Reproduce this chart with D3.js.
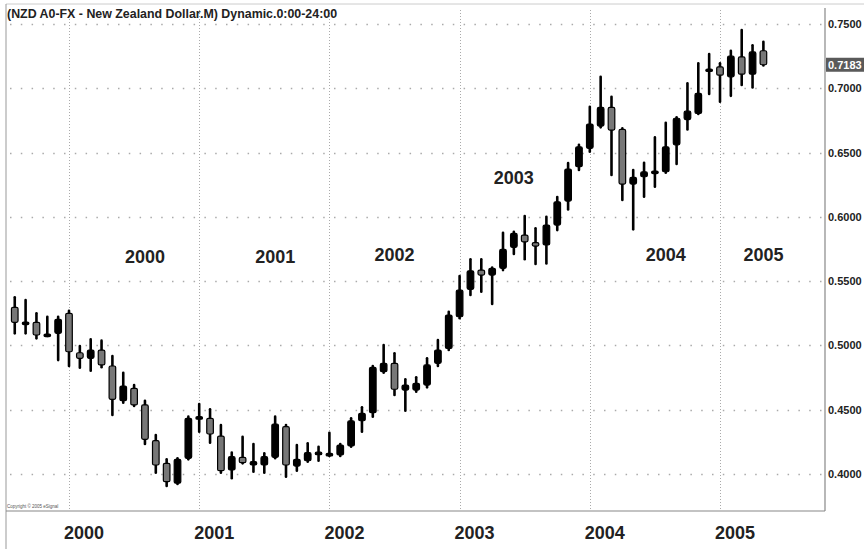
<!DOCTYPE html>
<html><head><meta charset="utf-8">
<script src="https://cdn.jsdelivr.net/npm/d3@7"></script>
<style>body{margin:0;background:#fff}svg{display:block}</style>
</head><body><svg id="c" width="864" height="549"></svg>
<script>
// Monthly candles Aug 1999 – May 2005
const months = ["1999-08","1999-09","1999-10","1999-11","1999-12",
"2000-01","2000-02","2000-03","2000-04","2000-05","2000-06","2000-07","2000-08","2000-09","2000-10","2000-11","2000-12",
"2001-01","2001-02","2001-03","2001-04","2001-05","2001-06","2001-07","2001-08","2001-09","2001-10","2001-11","2001-12",
"2002-01","2002-02","2002-03","2002-04","2002-05","2002-06","2002-07","2002-08","2002-09","2002-10","2002-11","2002-12",
"2003-01","2003-02","2003-03","2003-04","2003-05","2003-06","2003-07","2003-08","2003-09","2003-10","2003-11","2003-12",
"2004-01","2004-02","2004-03","2004-04","2004-05","2004-06","2004-07","2004-08","2004-09","2004-10","2004-11","2004-12",
"2005-01","2005-02","2005-03","2005-04","2005-05"];
const open = [0.5296,0.5175,0.5180,0.5083,0.5094,
0.5250,0.4943,0.4900,0.4964,0.4840,0.4570,0.4666,0.4537,0.4259,0.4083,0.3928,0.4122,
0.4440,0.4433,0.4295,0.4031,0.4130,0.4070,0.4070,0.4130,0.4368,0.4062,0.4103,0.4161,
0.4150,0.4148,0.4218,0.4414,0.4477,0.4796,0.4861,0.4653,0.4653,0.4692,0.4861,0.4977,
0.5223,0.5436,0.5586,0.5547,0.5600,0.5763,0.5858,0.5799,0.5781,0.5936,0.6123,0.6390,
0.6533,0.6706,0.6851,0.6680,0.6255,0.6312,0.6351,0.6351,0.6560,0.6757,0.6804,0.7140,
0.7167,0.7089,0.7244,0.7110,0.7292];
const high = [0.5374,0.5353,0.5250,0.5223,0.5223,
0.5270,0.4995,0.5047,0.5037,0.4918,0.4788,0.4692,0.4570,0.4303,0.4114,0.4122,0.4446,
0.4544,0.4503,0.4381,0.4166,0.4290,0.4233,0.4161,0.4446,0.4381,0.4225,0.4239,0.4212,
0.4321,0.4233,0.4433,0.4519,0.4840,0.5003,0.4939,0.4736,0.4752,0.4900,0.5042,0.5262,
0.5540,0.5670,0.5670,0.5605,0.5876,0.5884,0.6006,0.5911,0.6001,0.6154,0.6418,0.6560,
0.6856,0.7089,0.6934,0.6688,0.6364,0.6421,0.6618,0.6732,0.6775,0.7038,0.7194,0.7266,
0.7194,0.7292,0.7453,0.7335,0.7362];
const low = [0.5094,0.5094,0.5055,0.5073,0.4886,
0.4840,0.4827,0.4803,0.4830,0.4459,0.4554,0.4529,0.4233,0.4010,0.3907,0.3922,0.4114,
0.4329,0.4243,0.4010,0.3967,0.4083,0.4018,0.4010,0.4122,0.3979,0.4026,0.4096,0.4103,
0.4140,0.4140,0.4212,0.4329,0.4446,0.4788,0.4614,0.4492,0.4640,0.4674,0.4840,0.4964,
0.5211,0.5392,0.5418,0.5322,0.5586,0.5711,0.5670,0.5633,0.5638,0.5897,0.6058,0.6364,
0.6506,0.6696,0.6325,0.6131,0.5903,0.6156,0.6234,0.6343,0.6411,0.6680,0.6800,0.6955,
0.6895,0.6941,0.7026,0.7006,0.7178];
const close = [0.5180,0.5182,0.5081,0.5088,0.5203,
0.4951,0.4900,0.4964,0.4848,0.4581,0.4684,0.4537,0.4270,0.4070,0.3940,0.4114,0.4433,
0.4446,0.4311,0.4026,0.4135,0.4088,0.4096,0.4135,0.4389,0.4070,0.4114,0.4166,0.4170,
0.4160,0.4225,0.4414,0.4472,0.4830,0.4861,0.4659,0.4692,0.4705,0.4848,0.4964,0.5236,
0.5431,0.5581,0.5547,0.5600,0.5747,0.5871,0.5806,0.5773,0.5936,0.6117,0.6372,0.6545,
0.6722,0.6851,0.6675,0.6255,0.6307,0.6351,0.6356,0.6545,0.6767,0.6822,0.6960,0.7150,
0.7102,0.7250,0.7110,0.7283,0.7183];
const priceTicks = [0.40,0.45,0.50,0.55,0.60,0.65,0.70,0.75];
const years = [2000,2001,2002,2003,2004,2005];
const annotations = [
  {label:"2000", m:"2000-08", v:0.5690},
  {label:"2001", m:"2001-08", v:0.5690},
  {label:"2002", m:"2002-07", v:0.5705},
  {label:"2003", m:"2003-06", v:0.6305},
  {label:"2004", m:"2004-08", v:0.5705},
  {label:"2005", m:"2005-05", v:0.5705}
];
const title = "(NZD A0-FX - New Zealand Dollar.M) Dynamic.0:00-24:00";
const lastPrice = "0.7183";

const svg = d3.select("#c");
const FONT = "'Liberation Sans', Arial, sans-serif";
const L = 6, R = 825, T = 4, B = 511;

const x = d3.scaleLinear().domain([0, months.length - 1]).range([14.75, 14.75 + 10.85*(months.length - 1)]);
const y = d3.scaleLinear().domain([0.40, 0.75]).range([474, 24]);
const idx = m => months.indexOf(m);
const yearIdx = yr => idx(yr + "-01");

// frame
svg.append("line").attr("x1", L).attr("x2", 864).attr("y1", T).attr("y2", T).attr("stroke", "#ccc").attr("stroke-width", 1);
svg.append("line").attr("x1", L).attr("x2", L).attr("y1", T).attr("y2", 549).attr("stroke", "#999").attr("stroke-width", 1);
svg.append("line").attr("x1", R).attr("x2", R).attr("y1", 8).attr("y2", B).attr("stroke", "#888").attr("stroke-width", 1.2);
svg.append("line").attr("x1", L).attr("x2", R).attr("y1", B).attr("y2", B).attr("stroke", "#888").attr("stroke-width", 1.2);

// horizontal dotted gridlines
svg.append("g").selectAll("line").data(priceTicks).join("line")
  .attr("x1", L + 4).attr("x2", R - 2)
  .attr("y1", d => Math.round(y(d)) + 0.5).attr("y2", d => Math.round(y(d)) + 0.5)
  .attr("stroke", "#aaa").attr("stroke-width", 1.3).attr("stroke-dasharray", "1.5,9.3");

// vertical year lines
svg.append("g").selectAll("line").data(years).join("line")
  .attr("x1", d => Math.round(x(yearIdx(d))) + 0.5).attr("x2", d => Math.round(x(yearIdx(d))) + 0.5)
  .attr("y1", T + 6).attr("y2", B)
  .attr("stroke", "#aaa").attr("stroke-width", 1).attr("stroke-dasharray", "1,2");

// right axis
const yAxis = d3.axisRight(y).tickValues(priceTicks).tickSize(0).tickPadding(0).tickFormat(d3.format(".4f"));
const ax = svg.append("g").attr("transform", `translate(828,0)`).call(yAxis);
ax.select(".domain").remove();
ax.selectAll("text").attr("font-family", FONT).attr("font-weight", "bold").attr("font-size", 11).attr("fill", "#222");

// last price box
const lp = +lastPrice;
svg.append("rect").attr("x", 826).attr("y", y(lp) - 7).attr("width", 40).attr("height", 14).attr("fill", "#5a5a5a");
svg.append("text").attr("x", 828).attr("y", y(lp)).attr("dy", "0.35em").text(lastPrice)
  .attr("font-family", FONT).attr("font-weight", "bold").attr("font-size", 11).attr("fill", "#fff");

// bottom year labels
svg.append("g").selectAll("text").data(years).join("text")
  .attr("x", d => x(yearIdx(d)) + 15).attr("y", 539).attr("text-anchor", "middle")
  .attr("font-family", FONT).attr("font-weight", "bold").attr("font-size", 18).attr("fill", "#222")
  .text(d => d);

// title
svg.append("text").attr("x", 7).attr("y", 18).text(title)
  .attr("font-family", FONT).attr("font-weight", "bold").attr("font-size", 12.4).attr("fill", "#222");

// copyright
svg.append("text").attr("x", 7).attr("y", 508).text("Copyright © 2005 eSignal")
  .attr("font-family", FONT).attr("font-size", 4.5).attr("fill", "#555");

// annotations inside plot
svg.append("g").selectAll("text").data(annotations).join("text")
  .attr("x", d => x(idx(d.m))).attr("y", d => y(d.v)).attr("text-anchor", "middle").attr("dy", "0.35em")
  .attr("font-family", FONT).attr("font-weight", "bold").attr("font-size", 18).attr("fill", "#222")
  .text(d => d.label);

// candles
const data = months.map((m, i) => ({m, i, o: open[i], h: high[i], l: low[i], c: close[i]}));
const g = svg.append("g");
g.selectAll("line.w").data(data).join("line").attr("class", "w")
  .attr("x1", d => x(d.i)).attr("x2", d => x(d.i))
  .attr("y1", d => y(d.h)).attr("y2", d => y(d.l))
  .attr("stroke", "#000").attr("stroke-width", 2.6).attr("stroke-linecap", "round");
const bw = 6.6;
g.selectAll("rect.b").data(data).join("rect").attr("class", "b")
  .attr("x", d => x(d.i) - bw/2).attr("width", bw)
  .attr("y", d => y(Math.max(d.o, d.c)))
  .attr("height", d => Math.max(2.5, Math.abs(y(d.o) - y(d.c))))
  .attr("rx", 1.5)
  .attr("fill", d => d.c >= d.o ? "#000" : "#777")
  .attr("stroke", "#000").attr("stroke-width", 1.2);
</script></body></html>
